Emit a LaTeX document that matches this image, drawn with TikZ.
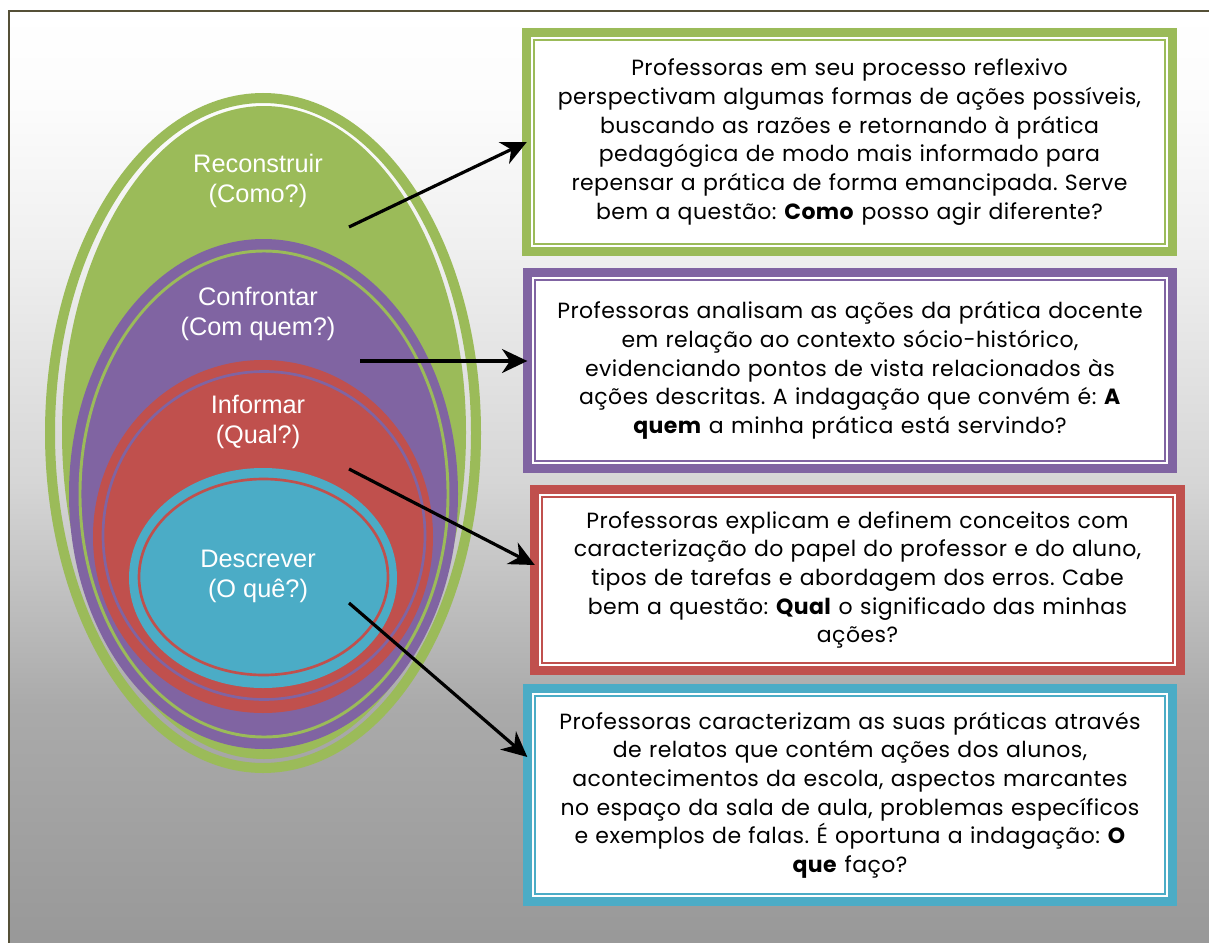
\documentclass[tikz,border=0pt]{standalone}
\usepackage{fontspec}
\setmainfont{Poppins}[LetterSpace=2]
\newfontfamily\rotulofont{Liberation Sans}
\usepackage{xcolor}
\usepackage{tikz}
\usetikzlibrary{arrows.meta, calc}
\definecolor{verde}{RGB}{155, 187, 89}
\definecolor{roxo}{RGB}{128, 100, 162}
\definecolor{vermelho}{RGB}{192, 80, 77}
\definecolor{azul}{RGB}{75, 172, 198}
\definecolor{moldura}{RGB}{85, 80, 55}
\definecolor{cinzafim}{RGB}{152, 152, 152}
\definecolor{cinzaa}{RGB}{170, 170, 170}
\definecolor{cinzab}{RGB}{214, 214, 214}
\definecolor{cinzac}{RGB}{239, 239, 239}
\definecolor{cinzad}{RGB}{252, 252, 252}
\pgfdeclareverticalshading{fundo}{100bp}{color(0bp)=(cinzafim); color(25bp)=(cinzafim); color(38bp)=(cinzaa); color(50bp)=(cinzab); color(62bp)=(cinzac); color(70bp)=(cinzad); color(75bp)=(white); color(100bp)=(white)}
\frenchspacing

\begin{document}
\begin{tikzpicture}[x=0.75pt, y=-0.75pt,
  caixa/.style={draw=#1, line width=6.75pt, fill=white, outer sep=0pt, minimum width=484pt, text width=470pt, align=center,
    font=\fontsize{16.5}{21.5}\selectfont,
    path picture={\draw[#1, line width=1.5pt] ([shift={(5.6pt,-5.6pt)}]path picture bounding box.north west) rectangle ([shift={(-5.6pt,5.6pt)}]path picture bounding box.south east);}},
  rotulo/.style={text=white, align=center, font=\rotulofont\fontsize{19}{22.5}\selectfont},
  seta/.style={-{Stealth[length=19pt, width=18pt, inset=6pt]}, line width=2.4pt}]
\useasboundingbox (0,0) rectangle (1209,942);
% fundo e moldura
\fill[white] (0,0) rectangle (1209,942);
\shade[shading=fundo] (9,11) rectangle (1215,950);
\draw[moldura, line width=1.9pt] (9,950) -- (9,11) -- (1215,11);

% elipses
\draw[verde, line width=7.5pt] (263,433) ellipse [x radius=213, y radius=335];
\fill[verde] (264,432.5) ellipse [x radius=202, y radius=326.5];
\fill[roxo] (263.5,494) ellipse [x radius=194.5, y radius=255];
\draw[verde, line width=2.2pt] (264,494) ellipse [x radius=184, y radius=243];
\fill[vermelho] (263,536.5) ellipse [x radius=170, y radius=176.5];
\draw[roxo, line width=2pt] (264,535.5) ellipse [x radius=161, y radius=164];
\fill[azul] (263,578) ellipse [x radius=134, y radius=110];
\draw[vermelho, line width=2pt] (263.5,577) ellipse [x radius=124.5, y radius=98];

\node[rotulo] (reconstruir) at (258,181) {Reconstruir\\(Como?)};
\node[rotulo] (confrontar) at (258,314) {Confrontar\\(Com quem?)};
\node[rotulo] (informar) at (258,422) {Informar\\(Qual?)};
\node[rotulo] (descrever) at (258,576) {Descrever\\(O quê?)};

% caixas
\node[caixa=verde, minimum height=164.25pt] (como) at (849.5,142) {Professoras em seu processo reflexivo\\
perspectivam algumas formas de ações possíveis,\\
buscando as razões e retornando à prática\\
pedagógica de modo mais informado para\\
repensar a prática de forma emancipada. Serve\\
bem a questão: \textbf{Como} posso agir diferente?};
\node[caixa=roxo, minimum height=147pt] (quem) at (850,370.5) {Professoras analisam as ações da prática docente\\
em relação ao contexto sócio-histórico,\\
evidenciando pontos de vista relacionados às\\
ações descritas. A indagação que convém é: \textbf{A}\\
\textbf{quem} a minha prática está servindo?};
\node[caixa=vermelho, minimum height=135.75pt] (qual) at (857.5,580) {Professoras explicam e definem conceitos com\\
caracterização do papel do professor e do aluno,\\
tipos de tarefas e abordagem dos erros. Cabe\\
bem a questão: \textbf{Qual} o significado das minhas\\
ações?};
\node[caixa=azul, minimum height=159.75pt] (que) at (850,795) {Professoras caracterizam as suas práticas através\\
de relatos que contém ações dos alunos,\\
acontecimentos da escola, aspectos marcantes\\
no espaço da sala de aula, problemas específicos\\
e exemplos de falas. É oportuna a indagação: \textbf{O}\\
\textbf{que} faço?};

% setas
\coordinate (p1) at (349,227);
\coordinate (p2) at (360,361);
\coordinate (p3) at (349,469);
\coordinate (p4) at (349,603);
\draw[seta] (p1) -- (como.west);
\draw[seta] (p2) -- ($(quem.west)+(0,-9.5)$);
\draw[seta] (p3) -- ($(qual.west)+(0,-15)$);
\draw[seta] (p4) -- ($(que.west)+(0,-38)$);
\end{tikzpicture}
\end{document}
